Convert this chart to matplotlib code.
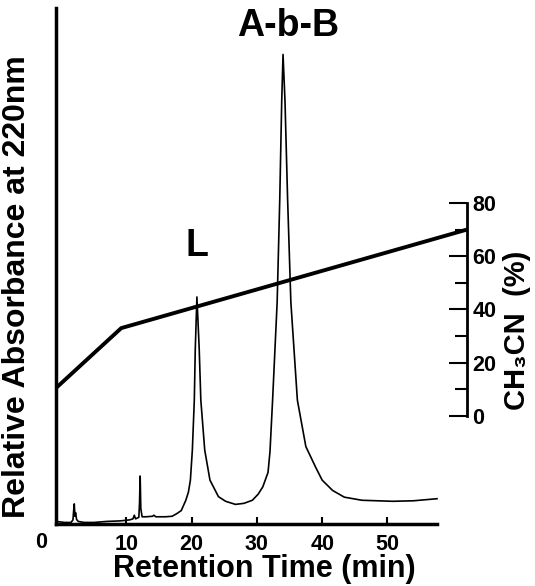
import numpy as np
from matplotlib import pyplot as plt

plt.rcParams['font.family'] = ['Liberation Sans', 'DejaVu Sans']
plt.rcParams['font.weight'] = 'bold'

# chromatogram trace: retention time [min] vs relative absorbance (arbitrary units)
time_min = [-0.8, 0.5, 1.5, 1.8, 1.9, 2.0, 2.1, 2.2, 2.35, 2.6, 3.5, 5.0, 7.0, 9.0,
            10.5, 11.0, 11.2, 11.4, 11.9, 12.0, 12.1, 12.2, 12.4, 13.0, 14.0, 14.2,
            14.5, 16.0, 17.0, 17.7, 18.4, 19.1, 19.5, 19.8, 20.1, 20.4, 20.55, 20.8,
            21.15, 21.4, 22.0, 22.8, 24.1, 25.2, 26.7, 28.0, 29.3,
            30.2, 30.9, 31.7, 32.0, 32.4, 33.1, 33.5, 33.8, 34.0, 34.3, 34.7,
            35.2, 36.2, 37.5, 39.0, 40.0, 41.6, 43.4, 46.1, 50.8, 54.0, 57.6]
absorb = [0.5, 0.3, 0.3, 0.8, 2.5, 3.9, 1.5, 2.2, 0.9, 0.5, 0.3, 0.3, 0.5, 0.6,
          0.8, 1.0, 1.7, 1.0, 1.3, 4.0, 9.3, 3.0, 1.4, 1.4, 1.5, 1.7,
          1.4, 1.4, 1.5, 2.0, 2.6, 4.6, 6.2, 8.5, 14.3, 24.0, 34.0, 44.0,
          34.0, 24.0, 14.3, 8.5, 5.3, 4.4, 3.8, 4.0, 4.6,
          5.8, 7.2, 10.0, 14.0, 24.0, 43.0, 63.0, 82.0, 91.0, 82.0, 63.0,
          43.0, 24.0, 15.0, 11.0, 8.5, 6.5, 5.2, 4.6, 4.4, 4.5, 4.9]

# CH3CN gradient [%]
grad_time = [-0.8, 9.2, 62.2]
grad_pct = [10.5, 33.0, 70.0]

fig = plt.figure(figsize=(5.35, 5.86), dpi=100)
ax = fig.add_axes([56 / 535, 62 / 586, 411 / 535, 516 / 586])
ax.plot(time_min, absorb, color='black', lw=1.2)
ax.set_xlim(-0.8, 62.2)
ax.set_ylim(0, 100)

for s in ['top', 'right']:
    ax.spines[s].set_visible(False)
ax.spines['left'].set_linewidth(2.5)
ax.spines['bottom'].set_linewidth(2.5)
ax.spines['bottom'].set_bounds(-0.8, 57.6)
ax.set_yticks([])
ax.set_xticks([10, 20, 30, 40, 50])
ax.tick_params(axis='x', direction='in', length=5, width=1.5, pad=7, labelsize=15.5)

ax2 = ax.twinx()
ax2.plot(grad_time, grad_pct, color='black', lw=2.8, solid_capstyle='butt')
ax2.set_ylim(-40.56, 153.2)
for s in ['top', 'left', 'bottom']:
    ax2.spines[s].set_visible(False)
ax2.spines['right'].set_bounds(0, 80)
ax2.spines['right'].set_linewidth(2)
ax2.set_yticks([0, 20, 40, 60, 80])
ax2.set_yticks([10, 30, 50, 70], minor=True)
ax2.tick_params(axis='y', which='major', direction='in', length=13, width=1.5, pad=4, labelsize=15.5)
ax2.tick_params(axis='y', which='minor', direction='in', length=8.5, width=1.5)

fig.text(41 / 535, 1 - 542 / 586, '0', ha='center', va='center', fontsize=15.5)
fig.text(264 / 535, 1 - 569 / 586, 'Retention Time (min)', ha='center', va='center', fontsize=22)
fig.text(17 / 535, 1 - 287 / 586, 'Relative Absorbance at 220nm', ha='center', va='center',
         rotation=90, fontsize=23)
fig.text(517 / 535, 1 - 330 / 586, 'CH₃CN  (%)', ha='center', va='center',
         rotation=90, fontsize=21)
fig.text(288 / 535, 1 - 26 / 586, 'A-b-B', ha='center', va='center', fontsize=27)
fig.text(197 / 535, 1 - 246 / 586, 'L', ha='center', va='center', fontsize=27)

fig.savefig('out.png', dpi=100)
